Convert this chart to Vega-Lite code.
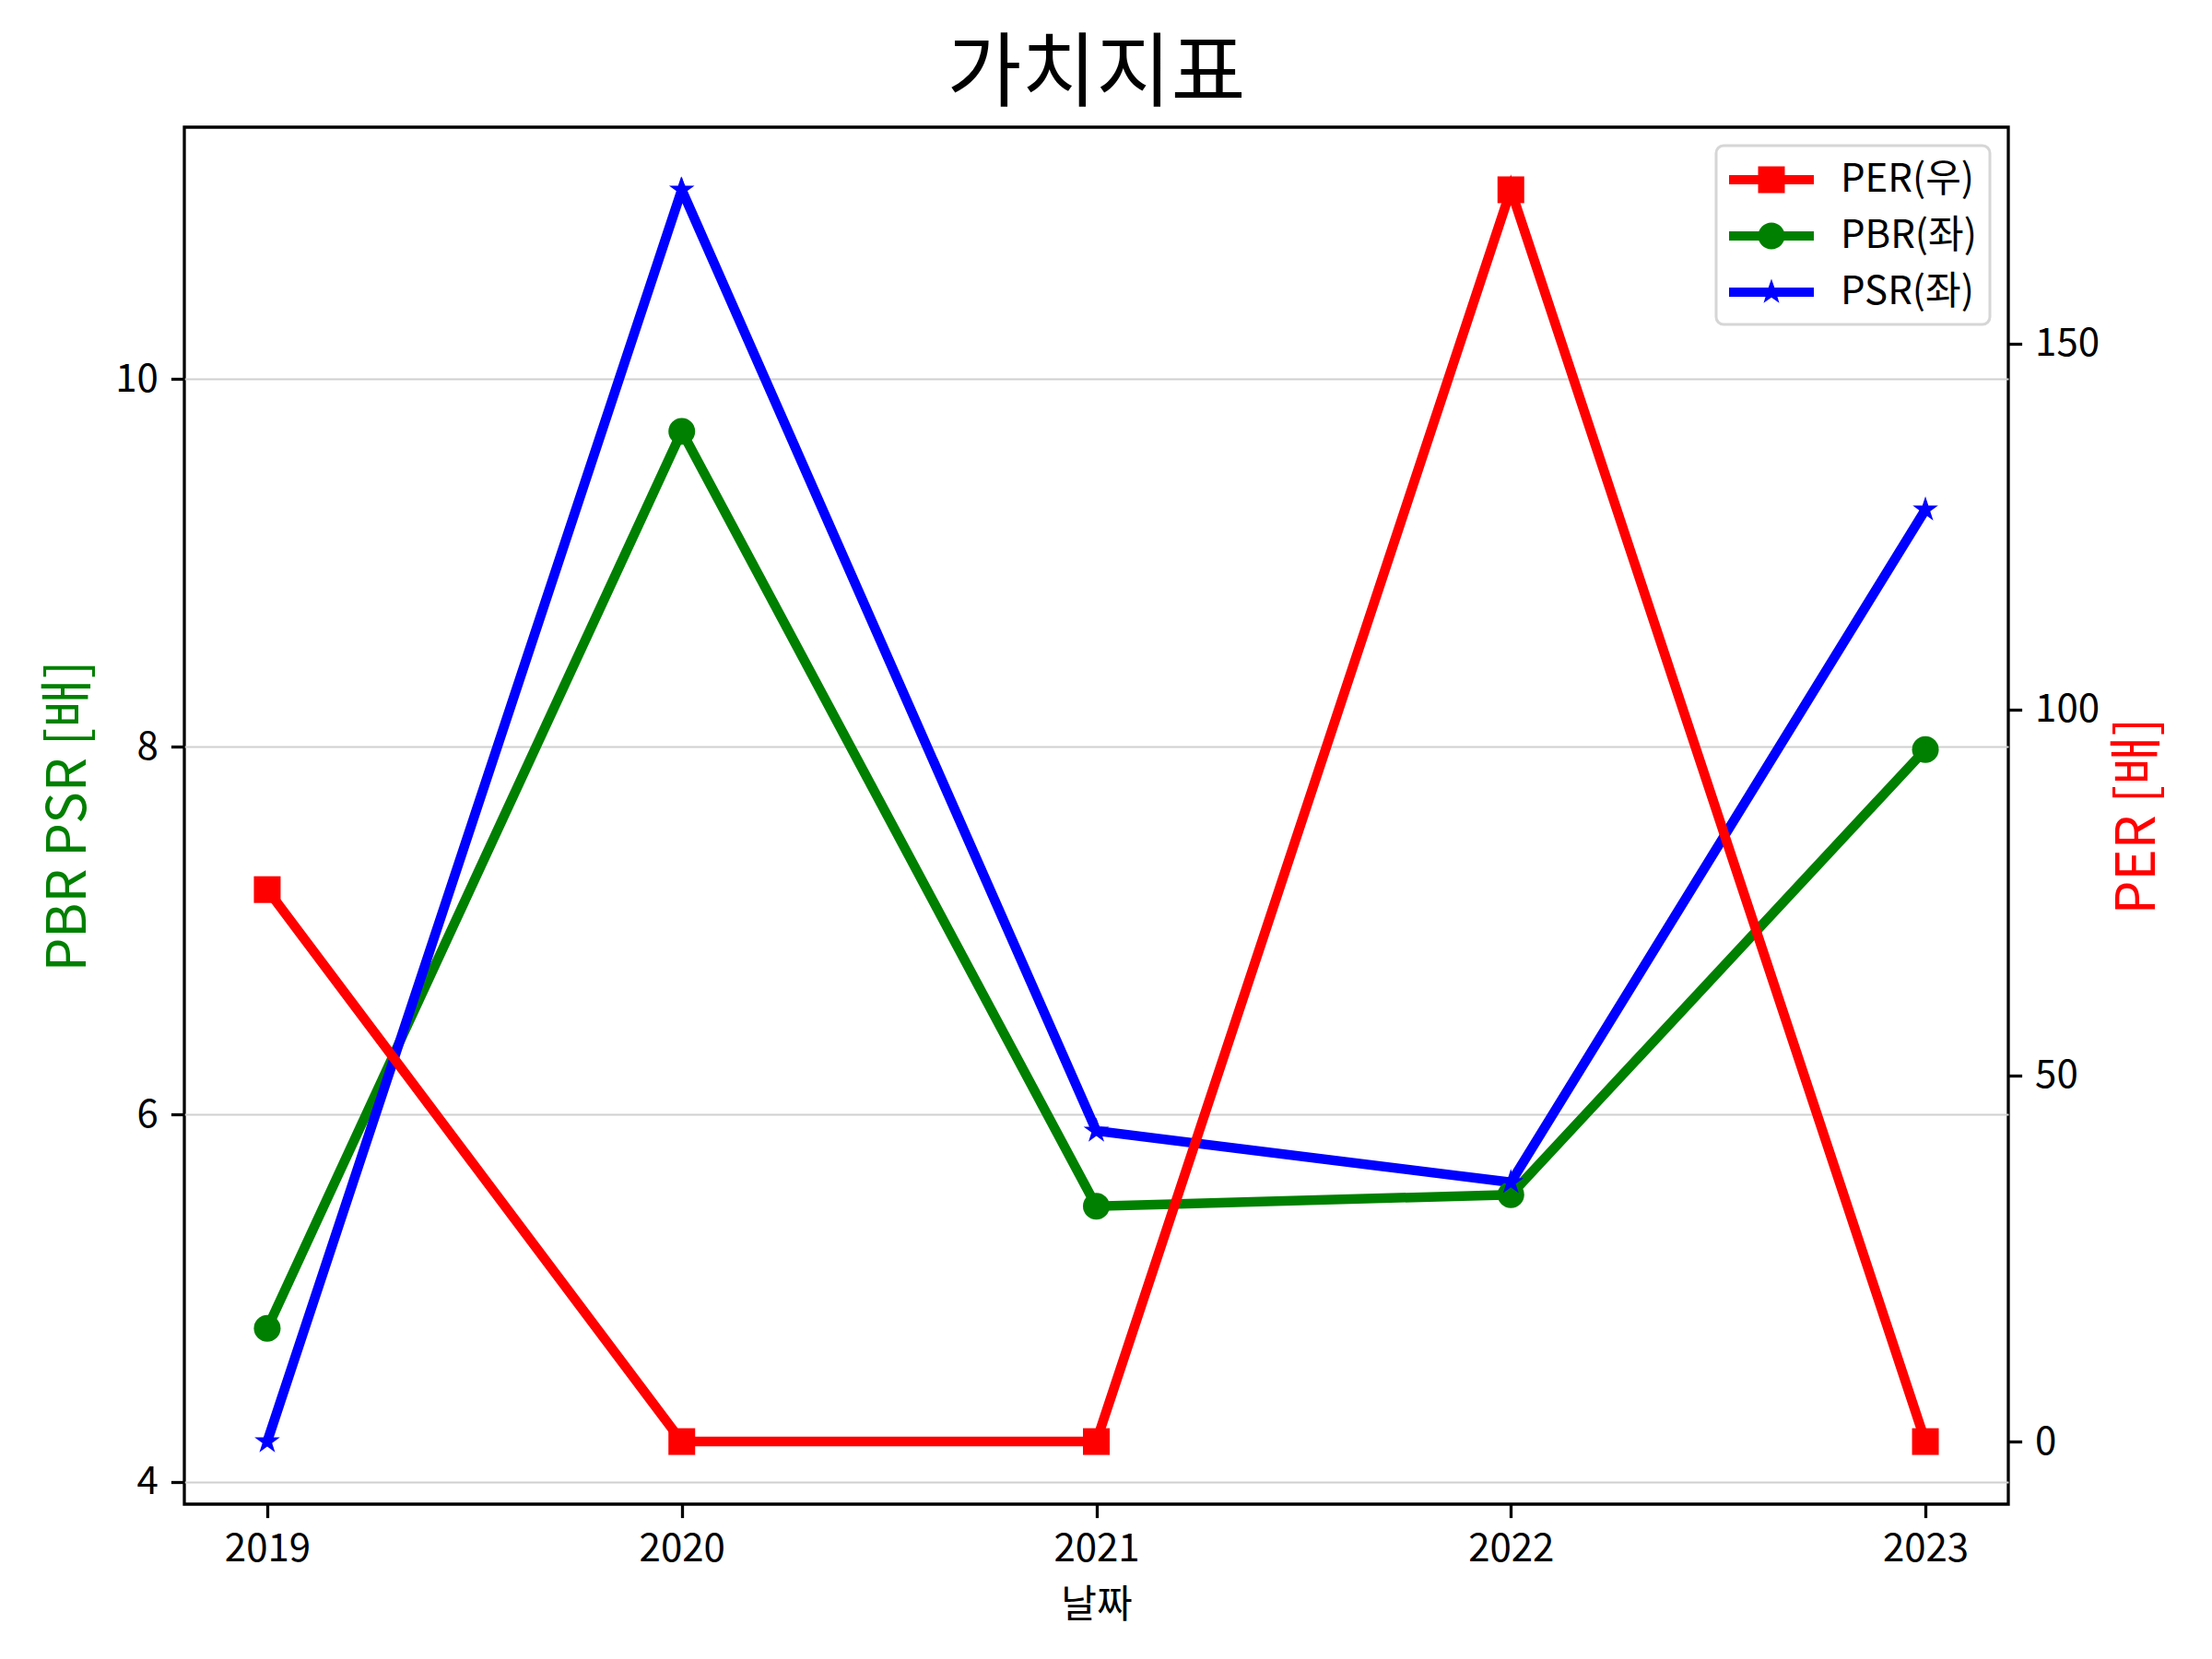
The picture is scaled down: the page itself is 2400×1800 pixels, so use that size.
{
  "$schema": "https://vega.github.io/schema/vega-lite/v6.json",
  "width": 1979,
  "height": 1494,
  "autosize": {"type": "none"},
  "padding": {"left": 200, "top": 138, "right": 221, "bottom": 168},
  "background": "white",
  "title": {
    "text": "가치지표",
    "font": "Noto Sans CJK KR",
    "fontSize": 88,
    "fontWeight": "normal",
    "color": "black",
    "anchor": "middle",
    "offset": 12
  },
  "data": {
    "values": [
      {"date": 2019, "series": "PER(우)", "value": 75.4},
      {"date": 2020, "series": "PER(우)", "value": 0},
      {"date": 2021, "series": "PER(우)", "value": 0},
      {"date": 2022, "series": "PER(우)", "value": 171.0},
      {"date": 2023, "series": "PER(우)", "value": 0},
      {"date": 2019, "series": "PBR(좌)", "value": 4.835},
      {"date": 2020, "series": "PBR(좌)", "value": 9.716},
      {"date": 2021, "series": "PBR(좌)", "value": 5.5},
      {"date": 2022, "series": "PBR(좌)", "value": 5.563},
      {"date": 2023, "series": "PBR(좌)", "value": 7.985},
      {"date": 2019, "series": "PSR(좌)", "value": 4.22},
      {"date": 2020, "series": "PSR(좌)", "value": 11.03},
      {"date": 2021, "series": "PSR(좌)", "value": 5.91},
      {"date": 2022, "series": "PSR(좌)", "value": 5.63},
      {"date": 2023, "series": "PSR(좌)", "value": 9.29}
    ]
  },
  "config": {
    "font": "Noto Sans CJK KR",
    "view": {"stroke": "black", "strokeWidth": 3.3},
    "axis": {
      "labelFont": "Noto Sans CJK KR",
      "labelFontSize": 42,
      "labelColor": "black",
      "labelPadding": 14,
      "tickColor": "black",
      "tickWidth": 3.3,
      "tickSize": 14.6,
      "domain": false,
      "titleFont": "Noto Sans CJK KR",
      "titleFontWeight": "normal"
    },
    "legend": {
      "orient": "top-right",
      "offset": 20,
      "padding": 14,
      "fillColor": "white",
      "strokeColor": "#d6d6d6",
      "strokeWidth": 3,
      "cornerRadius": 8,
      "labelFont": "Noto Sans CJK KR",
      "labelFontSize": 42,
      "labelColor": "black",
      "labelLimit": 400,
      "labelOffset": 75,
      "symbolSize": 2116,
      "rowPadding": 17
    }
  },
  "layer": [
    {
      "transform": [{"filter": "datum.series !== 'PER(우)'"}],
      "encoding": {
        "x": {
          "field": "date",
          "type": "quantitative",
          "scale": {"domain": [2018.8, 2023.2], "nice": false, "zero": false},
          "axis": {
            "values": [2019, 2020, 2021, 2022, 2023],
            "format": "d",
            "title": "날짜",
            "titleFontSize": 42,
            "titleColor": "black",
            "titlePadding": 20,
            "labelAngle": 0,
            "grid": false
          }
        },
        "y": {
          "field": "value",
          "type": "quantitative",
          "scale": {"domain": [3.879, 11.371], "nice": false, "zero": false},
          "axis": {
            "orient": "left",
            "values": [4, 6, 8, 10],
            "title": "PBR PSR [배]",
            "titleColor": "green",
            "titleFontSize": 58,
            "titlePadding": 20,
            "grid": true,
            "gridColor": "#d0d0d0",
            "gridWidth": 2
          }
        },
        "color": {
          "field": "series",
          "type": "nominal",
          "scale": {
            "domain": ["PER(우)", "PBR(좌)", "PSR(좌)"],
            "range": ["red", "green", "blue"]
          },
          "legend": {
            "title": null,
            "encode": {
              "symbols": {
                "update": {
                  "shape": {"signal": "datum.value === 'PER(우)' ? 'M-1,-0.217H3V0.217H-1Z M0.37,-0.63H1.63V0.63H0.37Z' : datum.value === 'PBR(좌)' ? 'M-1,-0.217H3V0.217H-1Z M1.63,0A0.63,0.63 0 1,1 0.37,0A0.63,0.63 0 1,1 1.63,0Z' : 'M-1,-0.217H3V0.217H-1Z M1,-0.63L1.147,-0.202L1.599,-0.195L1.238,0.077L1.37,0.51L1,0.25L0.63,0.51L0.762,0.077L0.401,-0.195L0.853,-0.202Z'"},
                  "fill": {"signal": "datum.value === 'PER(우)' ? 'red' : datum.value === 'PBR(좌)' ? 'green' : 'blue'"},
                  "stroke": {"value": "transparent"},
                  "strokeWidth": {"value": 0},
                  "opacity": {"value": 1}
                }
              }
            }
          }
        }
      },
      "layer": [
        {"mark": {"type": "line", "strokeWidth": 10.5}},
        {
          "mark": {"type": "point", "filled": true, "size": 841, "opacity": 1},
          "encoding": {
            "shape": {
              "field": "series",
              "type": "nominal",
              "scale": {
                "domain": ["PBR(좌)", "PSR(좌)"],
                "range": ["circle", "M0,-1L0.2233,-0.3074L0.9511,-0.309L0.3614,0.1174L0.5878,0.809L0,0.38L-0.5878,0.809L-0.3614,0.1174L-0.9511,-0.309L-0.2233,-0.3074Z"]
              },
              "legend": null
            }
          }
        }
      ]
    },
    {
      "transform": [{"filter": "datum.series === 'PER(우)'"}],
      "encoding": {
        "x": {"field": "date", "type": "quantitative"},
        "y": {
          "field": "value",
          "type": "quantitative",
          "scale": {"domain": [-8.55, 179.55], "nice": false, "zero": false},
          "axis": {
            "orient": "right",
            "values": [0, 50, 100, 150],
            "title": "PER [배]",
            "titleColor": "red",
            "titleFontSize": 58,
            "titleAngle": 270,
            "titlePadding": 72,
            "grid": false
          }
        },
        "color": {"field": "series", "type": "nominal"}
      },
      "layer": [
        {"mark": {"type": "line", "strokeWidth": 10.5}},
        {"mark": {"type": "point", "filled": true, "size": 841, "opacity": 1, "shape": "square"}}
      ]
    }
  ],
  "resolve": {"scale": {"y": "independent"}}
}
